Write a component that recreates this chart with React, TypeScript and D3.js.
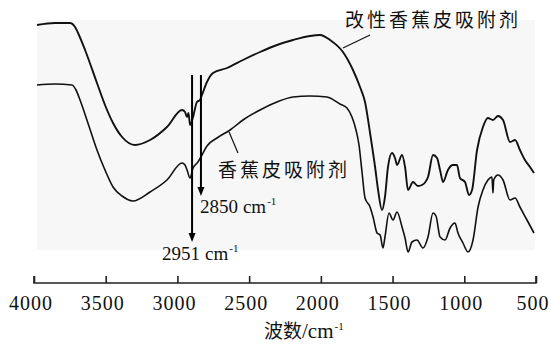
import { useEffect, useRef } from "react";
import * as d3 from "d3";

// wavenumber (cm-1) and relative transmittance
const modWave = [3979, 3854, 3749, 3714, 3693, 3644, 3561, 3505, 3449, 3386, 3296, 3191, 3073, 2968, 2947, 2933, 2923, 2912, 2891, 2864, 2843, 2829, 2794, 2752, 2654, 2543, 2424, 2306, 2194, 2076, 2006, 1936, 1846, 1776, 1727, 1692, 1657, 1622, 1601, 1574, 1553, 1532, 1504, 1483, 1469, 1434, 1413, 1392, 1358, 1323, 1295, 1253, 1218, 1190, 1169, 1148, 1114, 1079, 1051, 1030, 995, 967, 946, 911, 870, 835, 800, 765, 730, 681, 646, 612, 577, 542, 514];
const modT = [96, 96.8, 96.8, 95.2, 92.8, 86, 72.8, 64, 56.8, 51.2, 48, 50, 55.2, 62, 61.2, 59.2, 60.8, 56, 59.2, 65.2, 66, 68, 73.2, 76.8, 78.8, 82, 85.2, 88, 90, 91.6, 92, 90, 85.2, 78, 71.2, 65.2, 52.8, 39.2, 30, 22, 27.2, 39.2, 44.8, 42.8, 40, 44, 39.2, 30, 33.2, 31.6, 32, 35.2, 44, 42.8, 38, 33.2, 38, 40, 40, 34.8, 33.2, 28, 30, 46, 55.2, 58.8, 58, 59.6, 58, 49.2, 50, 46, 42, 39.2, 36.8];

const rawWave = [3979, 3854, 3735, 3707, 3679, 3624, 3561, 3505, 3449, 3386, 3310, 3191, 3073, 2968, 2947, 2933, 2912, 2891, 2857, 2829, 2794, 2724, 2633, 2543, 2424, 2306, 2194, 2076, 1957, 1867, 1818, 1783, 1755, 1734, 1713, 1692, 1657, 1636, 1608, 1587, 1567, 1553, 1525, 1497, 1469, 1434, 1413, 1392, 1365, 1330, 1288, 1253, 1218, 1197, 1169, 1134, 1099, 1065, 1044, 1009, 974, 939, 904, 870, 835, 807, 800, 795, 765, 730, 681, 646, 612, 563, 514];
const rawT = [72, 72.4, 72, 70, 66, 56.8, 46, 38, 31.2, 27.6, 25.6, 29.2, 34, 40.8, 40, 38, 34.8, 38.8, 41.2, 44, 47.6, 50.8, 54, 58, 62, 65.2, 67.2, 67.6, 67.2, 64.4, 62.8, 59.2, 54, 48, 37.2, 26.8, 23.2, 19.2, 12.8, 12, 6.8, 11.2, 20.8, 18, 21.2, 15.2, 10.8, 5.2, 9.2, 10, 6.8, 11.2, 20.8, 19.6, 11.2, 10, 14.8, 16.8, 12.8, 8.8, 5.2, 10, 23.2, 30, 34, 35.2, 28.8, 34, 36, 34, 26, 26.8, 23.2, 18, 12.8];

const xTicks = [4000, 3500, 3000, 2500, 2000, 1500, 1000, 500];

// peak markers: where the arrow is drawn, its top and tip, and the label
const peakLabels = ["2951", "2850"];
const peakWave = [2898, 2836];
const peakTop = [76, 76];
const peakTip = [9.2, 27.6];

const seriesNames = ["改性香蕉皮吸附剂", "香蕉皮吸附剂"];

export default function App() {
  const svgRef = useRef<SVGSVGElement>(null);

  useEffect(() => {
    const svg = d3.select(svgRef.current);
    svg.selectAll("*").remove();

    const width = 551;
    const height = 352;
    const serif = "'Liberation Serif', 'DejaVu Serif', serif";
    const cjk = "'Noto Sans CJK SC', sans-serif";

    const x = d3.scaleLinear().domain([4000, 500]).range([34, 536]);
    const y = d3.scaleLinear().domain([0, 100]).range([265, 15]);

    svg.attr("width", width).attr("height", height);

    // faint scan background of the plot area
    svg.append("rect")
      .attr("x", 37).attr("y", 20)
      .attr("width", 498).attr("height", 230)
      .attr("fill", "#f7f7f7");

    const line = d3.line<[number, number]>()
      .x(d => x(d[0]))
      .y(d => y(d[1]))
      .curve(d3.curveMonotoneX);

    svg.append("path")
      .attr("d", line(d3.zip(modWave, modT) as [number, number][]))
      .attr("fill", "none")
      .attr("stroke", "#111")
      .attr("stroke-width", 1.9)
      .attr("stroke-linejoin", "round");

    svg.append("path")
      .attr("d", line(d3.zip(rawWave, rawT) as [number, number][]))
      .attr("fill", "none")
      .attr("stroke", "#111")
      .attr("stroke-width", 1.6)
      .attr("stroke-linejoin", "round");

    // arrows
    peakWave.forEach((w, i) => {
      const px = x(w);
      svg.append("line")
        .attr("x1", px).attr("x2", px)
        .attr("y1", y(peakTop[i])).attr("y2", y(peakTip[i]) - 6)
        .attr("stroke", "#000").attr("stroke-width", 2);
      const tip = y(peakTip[i]);
      svg.append("path")
        .attr("d", `M${px - 3.5},${tip - 9}L${px + 3.5},${tip - 9}L${px},${tip}Z`)
        .attr("fill", "#000");
    });

    // peak labels
    const addCm = (t: d3.Selection<SVGTextElement, unknown, null, undefined>, num: string) => {
      t.append("tspan").text(num);
      t.append("tspan").attr("dx", 5).text("cm");
      t.append("tspan").attr("dy", -8).attr("dx", 1).attr("font-size", 11).text("-1");
    };
    const l2 = svg.append("text")
      .attr("x", x(peakWave[1]) - 1).attr("y", 213)
      .attr("font-family", serif).attr("font-size", 19).attr("fill", "#111");
    addCm(l2, peakLabels[1]);
    const l1 = svg.append("text")
      .attr("x", x(peakWave[0]) - 30).attr("y", 260)
      .attr("font-family", serif).attr("font-size", 19).attr("fill", "#111");
    addCm(l1, peakLabels[0]);

    // series labels with leader lines
    svg.append("line")
      .attr("x1", x(1846)).attr("y1", y(86.8))
      .attr("x2", x(1657)).attr("y2", y(92))
      .attr("stroke", "#111").attr("stroke-width", 1.2);
    svg.append("text")
      .attr("x", 345).attr("y", 27)
      .attr("font-family", cjk).attr("font-size", 19)
      .attr("letter-spacing", 3).attr("fill", "#111")
      .text(seriesNames[0]);

    svg.append("line")
      .attr("x1", x(2640)).attr("y1", y(53.2))
      .attr("x2", x(2578)).attr("y2", y(44.8))
      .attr("stroke", "#111").attr("stroke-width", 1.2);
    svg.append("text")
      .attr("x", 218).attr("y", 177)
      .attr("font-family", cjk).attr("font-size", 19)
      .attr("letter-spacing", 3).attr("fill", "#111")
      .text(seriesNames[1]);

    // x axis
    const axis = svg.append("g")
      .attr("transform", "translate(0,283)")
      .call(d3.axisBottom(x).tickValues(xTicks).tickSize(-7).tickPadding(15).tickFormat(d3.format("d")));
    axis.select(".domain").attr("stroke", "#222").attr("stroke-width", 1.6).attr("d", `M${x(4000)},-7V0H${x(500)}V-7`);
    axis.selectAll(".tick line").attr("stroke", "#222").attr("stroke-width", 1.6);
    axis.selectAll(".tick text")
      .attr("font-family", serif).attr("font-size", 20)
      .attr("letter-spacing", 1).attr("fill", "#111")
      .attr("dy", "0.71em").attr("y", 13).attr("dx", -3.5);

    const title = svg.append("text")
      .attr("x", 264).attr("y", 338)
      .attr("font-family", cjk).attr("font-size", 19).attr("fill", "#111");
    title.append("tspan").text("波数");
    title.append("tspan").attr("font-family", serif).attr("font-size", 21).text("/cm");
    title.append("tspan").attr("dy", -8).attr("dx", 1).attr("font-family", serif).attr("font-size", 11).text("-1");
  }, []);

  return <svg ref={svgRef} style={{ position: "absolute", left: 0, top: 0 }} />;
}
